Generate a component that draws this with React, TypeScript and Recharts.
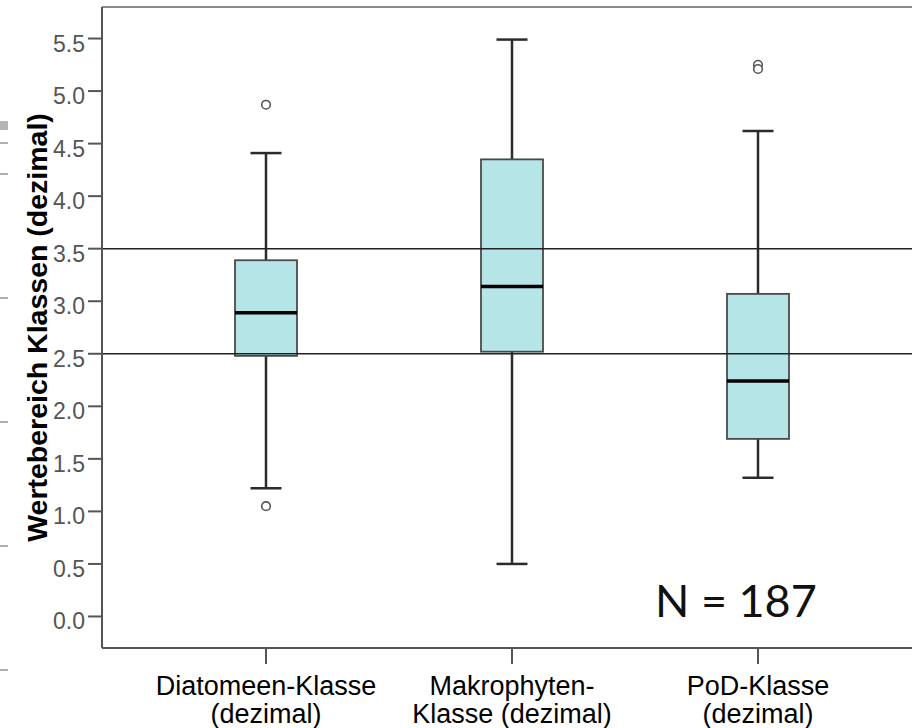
import { Bar, ComposedChart, ReferenceLine, Scatter, XAxis, YAxis } from 'recharts';

const categories = ['Diatomeen', 'Makrophyten', 'PoD'];
const tickLines = [
  ['Diatomeen-Klasse', '(dezimal)'],
  ['Makrophyten-', 'Klasse (dezimal)'],
  ['PoD-Klasse', '(dezimal)']
];
const whiskerLow = [1.22, 0.5, 1.32];
const quartile1 = [2.48, 2.52, 1.69];
const medians = [2.89, 3.14, 2.24];
const quartile3 = [3.39, 4.35, 3.07];
const whiskerHigh = [4.41, 5.49, 4.62];
const outlierA = [4.87, null, 5.25];
const outlierB = [1.05, null, 5.21];
const yTicks = [0, 0.5, 1, 1.5, 2, 2.5, 3, 3.5, 4, 4.5, 5, 5.5];
const guideLines = [2.5, 3.5];
const Y_MIN = -0.3;
const Y_MAX = 5.8;
const yLabel = 'Wertebereich Klassen (dezimal)';
const sampleLabel = 'N = 187';

const data = categories.map((name, i) => ({
  name,
  low: whiskerLow[i],
  q1: quartile1[i],
  median: medians[i],
  q3: quartile3[i],
  high: whiskerHigh[i],
  outA: outlierA[i],
  outB: outlierB[i]
}));

const FONT = '"Liberation Sans", Arial, sans-serif';

function BoxShape(props: any) {
  const { x, y, width, height, payload } = props;
  if (!payload || !Number.isFinite(y)) return <g />;
  const top = Math.min(y, y + height);
  const h = Math.abs(height);
  const span = payload.q3 - payload.q1;
  const k = span > 0 ? h / span : 0;
  const yOf = (v: number) => top + (payload.q3 - v) * k;
  const cx = x + width / 2;
  const cap = width / 4;
  return (
    <g>
      <line x1={cx} x2={cx} y1={yOf(payload.high)} y2={top} stroke="#2b2b2b" strokeWidth={2.5} />
      <line x1={cx} x2={cx} y1={top + h} y2={yOf(payload.low)} stroke="#2b2b2b" strokeWidth={2.5} />
      <line x1={cx - cap} x2={cx + cap} y1={yOf(payload.high)} y2={yOf(payload.high)} stroke="#2b2b2b" strokeWidth={2.5} />
      <line x1={cx - cap} x2={cx + cap} y1={yOf(payload.low)} y2={yOf(payload.low)} stroke="#2b2b2b" strokeWidth={2.5} />
      <rect x={x} y={top} width={width} height={h} fill="#9cdcde" fillOpacity={0.75} stroke="#4a4a4a" strokeWidth={1.8} />
      <line x1={x} x2={x + width} y1={yOf(payload.median)} y2={yOf(payload.median)} stroke="#000" strokeWidth={3.5} />
    </g>
  );
}

function OutlierDot(props: any) {
  const { cx, cy } = props;
  if (cx == null || cy == null || !Number.isFinite(cx) || !Number.isFinite(cy)) return <g />;
  return <circle cx={cx} cy={cy} r={4.3} fill="#fff" stroke="#555" strokeWidth={1.6} />;
}

function YTick(props: any) {
  const { x, y, payload } = props;
  return (
    <text x={x} y={y + 13} textAnchor="end" fill="#555" fontSize={23} fontFamily={FONT}>
      {Number(payload.value).toFixed(1)}
    </text>
  );
}

function XTick(props: any) {
  const { x, y, payload, index } = props;
  const lines = tickLines[categories.indexOf(payload.value)] ?? tickLines[index] ?? [String(payload.value)];
  return (
    <g>
      {lines.map((t: string, i: number) => (
        <text key={i} x={x} y={y + 29 + i * 28} textAnchor="middle" fill="#000" fontSize={27} fontFamily={FONT}>
          {t}
        </text>
      ))}
    </g>
  );
}

function YLabel(props: any) {
  const vb = props.viewBox ?? {};
  const cy = vb.height ? vb.y + vb.height / 2 : 327.5;
  return (
    <text
      x={47}
      y={cy}
      transform={`rotate(-90 47 ${cy})`}
      textAnchor="middle"
      fill="#000"
      fontSize={28.5}
      fontWeight="bold"
      fontFamily={FONT}
    >
      {yLabel}
    </text>
  );
}

const edgeMarks = [143, 174, 298, 422, 546, 670];

export default function App() {
  return (
    <div style={{ position: 'absolute', left: 0, top: 0, width: 912, height: 728, background: '#fff' }}>
      <ComposedChart width={912} height={728} data={data} margin={{ top: 7, right: 0, bottom: 0, left: 0 }}>
        <XAxis
          dataKey="name"
          type="category"
          height={80}
          padding={{ left: 41, right: 31 }}
          axisLine={{ stroke: '#555', strokeWidth: 2 }}
          tickLine={{ stroke: '#555', strokeWidth: 2 }}
          tickSize={16}
          tickMargin={2}
          tick={<XTick />}
          interval={0}
        />
        <YAxis
          type="number"
          width={102}
          domain={[Y_MIN, Y_MAX]}
          ticks={yTicks}
          allowDataOverflow
          axisLine={{ stroke: '#555', strokeWidth: 2 }}
          tickLine={{ stroke: '#555', strokeWidth: 2 }}
          tickSize={14}
          tickMargin={3}
          tick={<YTick />}
          interval={0}
          label={<YLabel />}
        />
        {guideLines.map((v) => (
          <ReferenceLine key={v} y={v} stroke="#222" strokeWidth={1.5} />
        ))}
        <ReferenceLine y={Y_MAX} stroke="#8a8a8a" strokeWidth={2} />
        <Bar dataKey={(d: any) => [d.q1, d.q3]} barSize={62} shape={<BoxShape />} isAnimationActive={false} />
        <Scatter dataKey="outA" shape={<OutlierDot />} isAnimationActive={false} />
        <Scatter dataKey="outB" shape={<OutlierDot />} isAnimationActive={false} />
      </ComposedChart>
      <svg width={912} height={728} style={{ position: 'absolute', left: 0, top: 0, pointerEvents: 'none' }}>
        <text x={655} y={617} fontSize={45} fontFamily="Lato, 'Noto Sans', sans-serif" fill="#111">
          {sampleLabel}
        </text>
      </svg>
      <div style={{ position: 'absolute', left: 0, top: 121, width: 8, height: 9, background: '#b5b5b5' }} />
      {edgeMarks.map((t) => (
        <div key={t} style={{ position: 'absolute', left: 0, top: t - 1, width: 8, height: 2, background: '#b0b0b0' }} />
      ))}
    </div>
  );
}
